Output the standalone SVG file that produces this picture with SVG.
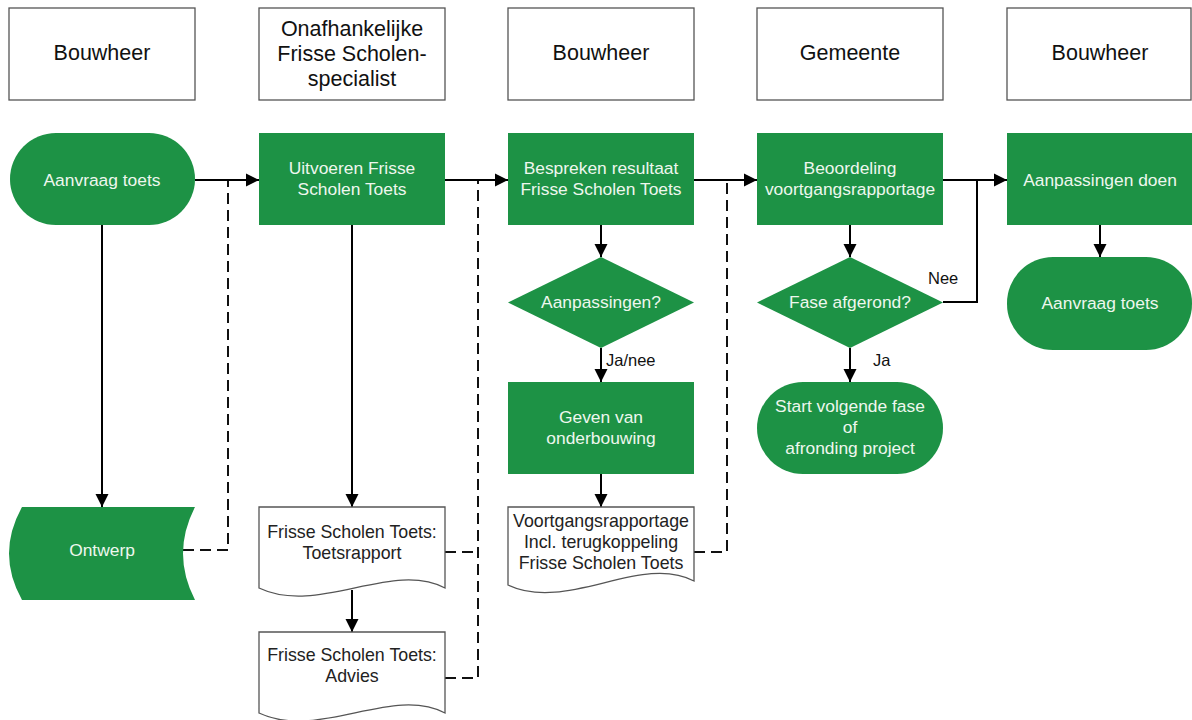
<svg xmlns="http://www.w3.org/2000/svg" width="1192" height="720" viewBox="0 0 1192 720">
<defs>
<marker id="arr" markerUnits="userSpaceOnUse" markerWidth="14" markerHeight="14" refX="13" refY="7" orient="auto">
<path d="M0,0.5 L13,7 L0,13.5 z" fill="#000"/>
</marker>
<style>
.hdr{fill:#fff;stroke:#555;stroke-width:1.3}
.g{fill:#1d9245}
.doc{fill:#fff;stroke:#555;stroke-width:1.3}
.ht{font-family:"Liberation Sans",Arial,sans-serif;font-size:21.5px;fill:#111;text-anchor:middle}
.gt{font-family:"Liberation Sans",Arial,sans-serif;font-size:17.4px;fill:#eef7ee;text-anchor:middle}
.dt{font-family:"Liberation Sans",Arial,sans-serif;font-size:17.8px;fill:#222;text-anchor:middle}
.lt{font-family:"Liberation Sans",Arial,sans-serif;font-size:16.5px;fill:#111}
.c{fill:none;stroke:#000;stroke-width:2}
.d{fill:none;stroke:#111;stroke-width:2;stroke-dasharray:11,6}
</style>
</defs>
<rect width="1192" height="720" fill="#fff"/>

<g id="headers">
<g id="h1"><rect class="hdr" x="9" y="8" width="186" height="92"/><text class="ht" x="102" y="60">Bouwheer</text></g>
<g id="h2"><rect class="hdr" x="259" y="8" width="186" height="92"/><text class="ht" x="352" y="36">Onafhankelijke</text><text class="ht" x="352" y="61">Frisse Scholen-</text><text class="ht" x="352" y="86">specialist</text></g>
<g id="h3"><rect class="hdr" x="508" y="8" width="186" height="92"/><text class="ht" x="601" y="60">Bouwheer</text></g>
<g id="h4"><rect class="hdr" x="757" y="8" width="186" height="92"/><text class="ht" x="850" y="60">Gemeente</text></g>
<g id="h5"><rect class="hdr" x="1007" y="8" width="184" height="92"/><text class="ht" x="1100" y="60">Bouwheer</text></g>
</g>

<g id="connectors">
<path class="d" d="M183,550 H228 V181"/>
<path class="d" d="M445,678 H478 V181 M445,552 H478"/>
<path class="d" d="M694,552 H727 V181"/>
<path class="c" d="M195,180 H259" marker-end="url(#arr)"/>
<path class="c" d="M445,180 H508" marker-end="url(#arr)"/>
<path class="c" d="M694,180 H757" marker-end="url(#arr)"/>
<path class="c" d="M943,180 H1007" marker-end="url(#arr)"/>
<path class="c" d="M943,302 H977 V180"/>
<path class="c" d="M102,225 V507" marker-end="url(#arr)"/>
<path class="c" d="M352,225 V507" marker-end="url(#arr)"/>
<path class="c" d="M352,590 V632" marker-end="url(#arr)"/>
<path class="c" d="M601,225 V257" marker-end="url(#arr)"/>
<path class="c" d="M601,348 V382" marker-end="url(#arr)"/>
<path class="c" d="M601,474 V507" marker-end="url(#arr)"/>
<path class="c" d="M850,225 V257" marker-end="url(#arr)"/>
<path class="c" d="M850,348 V382" marker-end="url(#arr)"/>
<path class="c" d="M1100,225 V257" marker-end="url(#arr)"/>
<text class="lt" x="606" y="366">Ja/nee</text>
<text class="lt" x="928" y="284">Nee</text>
<text class="lt" x="873" y="366">Ja</text>
</g>

<g id="aanvraag1"><rect class="g" x="10" y="133" width="185" height="92" rx="46"/><text class="gt" x="102" y="186">Aanvraag toets</text></g>
<g id="uitvoeren"><rect class="g" x="259" y="133" width="186" height="92"/><text class="gt" x="352" y="174">Uitvoeren Frisse</text><text class="gt" x="352" y="195">Scholen Toets</text></g>
<g id="bespreken"><rect class="g" x="508" y="133" width="186" height="92"/><text class="gt" x="601" y="174">Bespreken resultaat</text><text class="gt" x="601" y="195">Frisse Scholen Toets</text></g>
<g id="beoordeling"><rect class="g" x="757" y="133" width="186" height="92"/><text class="gt" x="850" y="174">Beoordeling</text><text class="gt" x="850" y="195">voortgangsrapportage</text></g>
<g id="aanpassingendoen"><rect class="g" x="1007" y="133" width="185" height="92"/><text class="gt" x="1100" y="186">Aanpassingen doen</text></g>

<g id="aanpassingen"><path class="g" d="M601,257 L694,302.5 L601,348 L508,302.5 Z"/><text class="gt" x="601" y="308">Aanpassingen?</text></g>
<g id="fase"><path class="g" d="M850,257 L943,302.5 L850,348 L757,302.5 Z"/><text class="gt" x="850" y="308">Fase afgerond?</text></g>
<g id="aanvraag2"><rect class="g" x="1007" y="257" width="185" height="93" rx="46"/><text class="gt" x="1100" y="309">Aanvraag toets</text></g>

<g id="geven"><rect class="g" x="508" y="382" width="186" height="92"/><text class="gt" x="601" y="423">Geven van</text><text class="gt" x="601" y="444">onderbouwing</text></g>
<g id="start"><rect class="g" x="757" y="382" width="186" height="92" rx="46"/><text class="gt" x="850" y="412">Start volgende fase</text><text class="gt" x="850" y="433">of</text><text class="gt" x="850" y="454">afronding project</text></g>

<g id="ontwerp"><path class="g" d="M22,507 H195 Q171,553.5 195,600 H22 Q-4,553.5 22,507 Z"/><text class="gt" x="102" y="556">Ontwerp</text></g>
<g id="toetsrapport"><path class="doc" d="M259,507 H445 V588 C392,560 318,616 259,588 Z"/><text class="dt" x="352" y="538">Frisse Scholen Toets:</text><text class="dt" x="352" y="559">Toetsrapport</text></g>
<g id="advies"><path class="doc" d="M259,632 H445 V713 C392,685 318,741 259,713 Z"/><text class="dt" x="352" y="661">Frisse Scholen Toets:</text><text class="dt" x="352" y="682">Advies</text></g>
<g id="voortgang"><path class="doc" d="M508,507 H694 V581 C641,553 567,613 508,585 Z"/><text class="dt" x="601" y="527">Voortgangsrapportage</text><text class="dt" x="601" y="548">Incl. terugkoppeling</text><text class="dt" x="601" y="569">Frisse Scholen Toets</text></g>
</svg>
